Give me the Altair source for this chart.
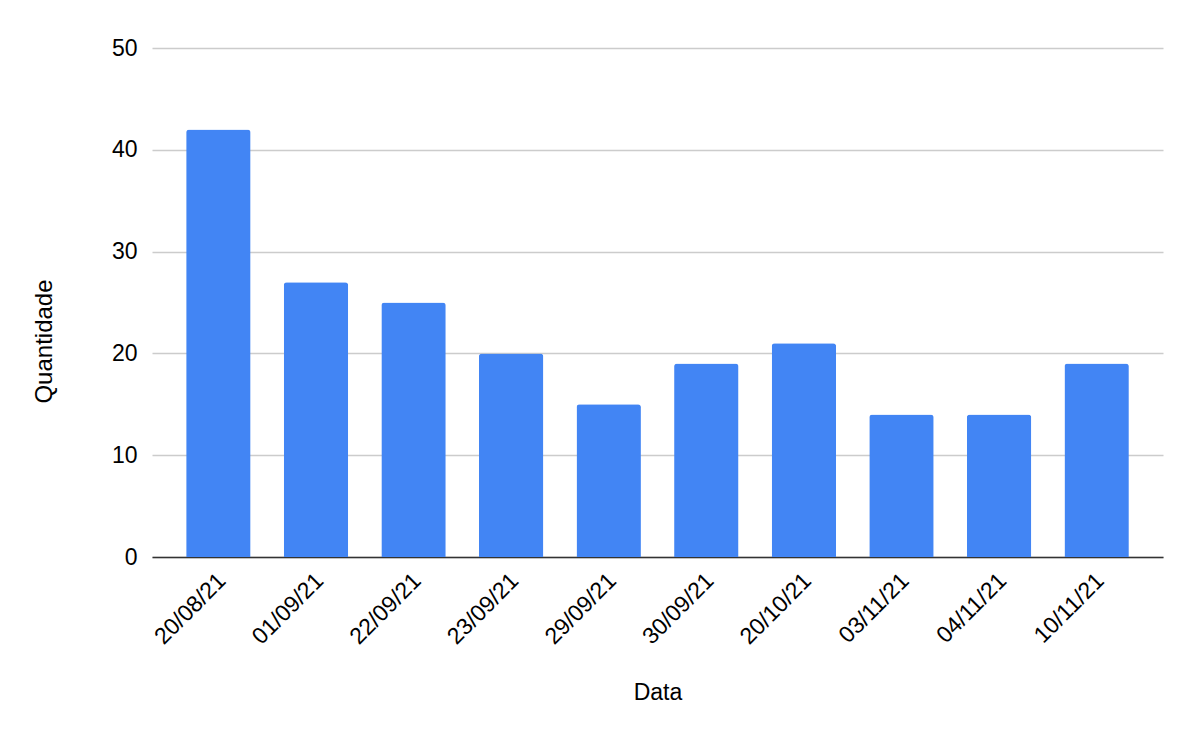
import altair as alt
import pandas as pd

datas = ["20/08/21", "01/09/21", "22/09/21", "23/09/21", "29/09/21",
         "30/09/21", "20/10/21", "03/11/21", "04/11/21", "10/11/21"]
quantidades = [42, 27, 25, 20, 15, 19, 21, 14, 14, 19]

df = pd.DataFrame({"Data": datas, "Quantidade": quantidades})

FONT = "Liberation Sans"

chart = (
    alt.Chart(df)
    .mark_bar(color="#4285F4", cornerRadiusTopLeft=3, cornerRadiusTopRight=3)
    .encode(
        x=alt.X(
            "Data:N",
            sort=datas,
            title="Data",
            scale=alt.Scale(paddingInner=0.34, paddingOuter=0.35),
            axis=alt.Axis(
                labelAngle=-45,
                labelFontSize=23,
                labelFont=FONT,
                labelColor="#000000",
                ticks=False,
                domainColor="#333333",
                domainWidth=1.5,
                labelPadding=12,
                labelOffset=-4,
                titleFontSize=23,
                titleFont=FONT,
                titleFontWeight="normal",
                titleColor="#000000",
                titleY=124,
                titleBaseline="top",
                grid=False,
            ),
        ),
        y=alt.Y(
            "Quantidade:Q",
            title="Quantidade",
            scale=alt.Scale(domain=[0, 50]),
            axis=alt.Axis(
                values=[0, 10, 20, 30, 40, 50],
                labelFontSize=23,
                labelFont=FONT,
                labelColor="#000000",
                ticks=False,
                domain=False,
                labelPadding=15,
                gridColor="#cccccc",
                gridWidth=1.5,
                titleFontSize=24,
                titleFont=FONT,
                titleFontWeight="normal",
                titleColor="#000000",
                titleX=-96,
                titleY=293,
            ),
        ),
    )
    .properties(
        width=1011,
        height=509,
        background="white",
        autosize=alt.AutoSizeParams(type="none"),
        padding={"left": 152, "top": 48, "right": 37, "bottom": 185},
    )
    .configure_view(stroke="transparent", strokeWidth=0)
)

chart.save("out.html", embed_options={"renderer": "svg", "actions": False})
